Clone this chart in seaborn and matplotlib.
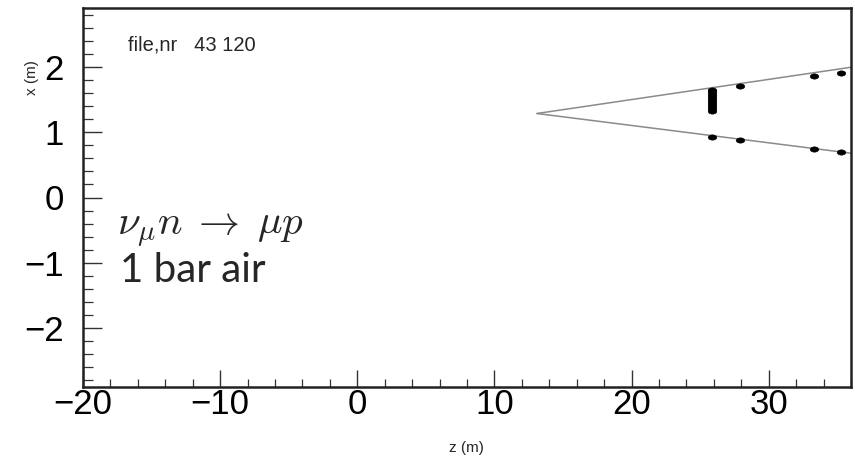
import numpy as np
import pandas as pd
import matplotlib
matplotlib.use("Agg")
import matplotlib.pyplot as plt
from matplotlib.path import Path
from matplotlib.ticker import MultipleLocator
import seaborn as sns

# ---- data ----
track_z = [13.1, 36.0]
track_upper_x = [1.29, 2.00]
track_lower_x = [1.29, 0.68]

cluster_z = [25.9] * 12
cluster_x = [1.65, 1.63, 1.60, 1.57, 1.54, 1.51, 1.48, 1.45, 1.42, 1.39, 1.36, 1.33]
upper_hit_z = [27.9, 33.3, 35.3]
upper_hit_x = [1.71, 1.87, 1.91]
lower_hit_z = [25.9, 27.9, 33.3, 35.3]
lower_hit_x = [0.93, 0.88, 0.745, 0.70]

x_ticks = [-20, -10, 0, 10, 20, 30]
y_ticks = [-2, -1, 0, 1, 2]

sns.set_theme(style="ticks")
plt.rcParams['font.family'] = ['Liberation Sans', 'DejaVu Sans']
plt.rcParams['mathtext.fontset'] = 'cm'

fig = plt.figure(figsize=(8.55, 4.59), dpi=100)
ax = fig.add_axes([83/855, 1-387/459, (851-83)/855, (387-8)/459])

tracks = pd.DataFrame({
    "z": track_z + track_z,
    "x": track_upper_x + track_lower_x,
    "track": ["upper"] * 2 + ["lower"] * 2,
})
sns.lineplot(data=tracks, x="z", y="x", units="track", estimator=None,
             color="#8a8a8a", linewidth=1.1, ax=ax, sort=False)

circ = Path.unit_circle()
ell = Path(circ.vertices * np.array([1.0, 0.62]), circ.codes)
hits = pd.DataFrame({"z": cluster_z + upper_hit_z + lower_hit_z,
                     "x": cluster_x + upper_hit_x + lower_hit_x})
sns.scatterplot(data=hits, x="z", y="x", marker=ell, s=38, color="black",
                edgecolor="black", linewidth=0.4, ax=ax, zorder=3)

ax.set_xlim(-20, 36)
ax.set_ylim(-2.91, 2.91)
ax.set_xticks(x_ticks)
ax.set_yticks(y_ticks)
ax.set_xticklabels([str(v).replace('-', '\u2212') for v in x_ticks])
ax.set_yticklabels([str(v).replace('-', '\u2212') for v in y_ticks])
ax.xaxis.set_minor_locator(MultipleLocator(2))
ax.yaxis.set_minor_locator(MultipleLocator(0.2))
ax.tick_params(which='both', direction='in', colors='#333333',
               labelcolor='black', labelsize=25, bottom=True, left=True,
               top=False, right=False)
ax.tick_params(axis='x', which='major', length=12, width=1.0, pad=1)
ax.tick_params(axis='x', which='minor', length=6, width=0.9)
ax.tick_params(axis='y', which='major', length=14, width=1.0, pad=14)
ax.tick_params(axis='y', which='minor', length=7, width=0.9)
for s in ax.spines.values():
    s.set_color('#222222')
    s.set_linewidth(1.8)
    s.set_visible(True)
ax.set_xlabel("")
ax.set_ylabel("")

fig.text(466/855, 1-448/459, "z (m)", fontsize=11, ha='center', va='center')
fig.text(32/855, 1-78/459, "x (m)", fontsize=11, ha='center', va='center',
         rotation=90)

fig.text(128/855, 1-45/459, "file,nr   43 120", fontsize=14.5,
         ha='left', va='center')
fig.text(117/855, 1-235/459, r"$\nu_{\mu}n\;\rightarrow\;\mu p$", fontsize=29.5,
         ha='left', va='baseline')
fig.text(120/855, 1-282/459, "1 bar air", fontsize=29, family=['Lato', 'DejaVu Sans'],
         ha='left', va='baseline')

fig.savefig("out.png", dpi=100, facecolor='white')
